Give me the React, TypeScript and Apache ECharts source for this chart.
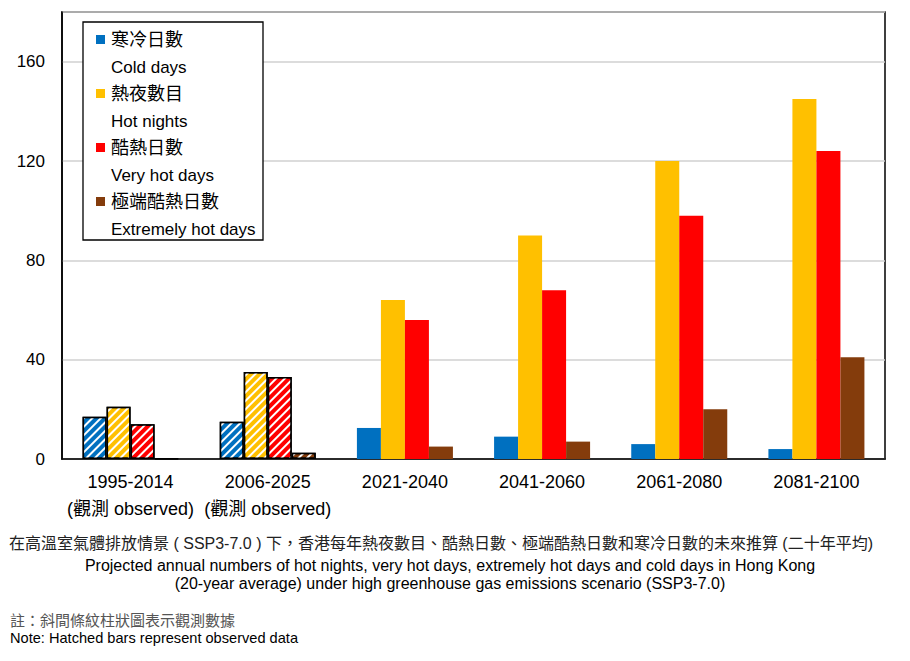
import React, { useEffect, useRef } from "react";
import * as echarts from "echarts";

const categories = ["1995-2014", "2006-2025", "2021-2040", "2041-2060", "2061-2080", "2081-2100"];
const observedFlags = [true, true, false, false, false, false];
const coldDays = [17, 15, 12.5, 9, 6, 4];
const hotNights = [21, 35, 64, 90, 120, 145];
const veryHotDays = [14, 33, 56, 68, 98, 124];
const extremelyHotDays = [0.3, 2.5, 5, 7, 20, 41];
const seriesNamesZh = ["寒冷日數", "熱夜數目", "酷熱日數", "極端酷熱日數"];
const seriesNamesEn = ["Cold days", "Hot nights", "Very hot days", "Extremely hot days"];
const seriesColors = ["#0070C0", "#FFC000", "#FF0000", "#843C0C"];
const yTicks = [0, 40, 80, 120, 160];

const FONT = "'Liberation Sans', Arial, 'Noto Sans CJK TC', sans-serif";
const NARROW = "'Liberation Sans Narrow', 'Arial Narrow', 'Liberation Sans', 'Noto Sans CJK TC', sans-serif";

export default function App() {
  const ref = useRef<HTMLDivElement>(null);
  useEffect(() => {
    if (!ref.current) return;
    const chart = echarts.init(ref.current, null, { renderer: "svg" });
    const allValues = [coldDays, hotNights, veryHotDays, extremelyHotDays];
    const decal = {
      symbol: "rect",
      symbolSize: 1,
      color: "#ffffff",
      dashArrayX: [1, 0],
      dashArrayY: [2, 4],
      rotation: -Math.PI / 4,
    };
    const series = allValues.map((vals, si) => ({
      type: "bar",
      name: seriesNamesZh[si],
      barGap: "0%",
      barCategoryGap: "30%",
      itemStyle: { color: seriesColors[si] },
      data: vals.map((v, i) =>
        observedFlags[i]
          ? { value: v, itemStyle: { color: seriesColors[si], borderColor: "#000", borderWidth: 1.5, decal } }
          : { value: v }
      ),
    }));

    const legendGraphics: any[] = [
      {
        type: "rect",
        shape: { x: 83, y: 22, width: 180, height: 218 },
        style: { fill: "#fff", stroke: "#000", lineWidth: 1.3 },
        z: 100,
      },
    ];
    const rowGap = 27;
    seriesNamesZh.forEach((zh, i) => {
      const y0 = 40 + i * 2 * rowGap;
      legendGraphics.push({
        type: "rect",
        shape: { x: 96, y: y0 - 5, width: 9, height: 9 },
        style: { fill: seriesColors[i] },
        z: 101,
      });
      legendGraphics.push({
        type: "text",
        x: 111,
        y: y0,
        style: { text: zh, font: `18px ${FONT}`, fill: "#000", verticalAlign: "middle" },
        z: 101,
      });
      legendGraphics.push({
        type: "text",
        x: 111,
        y: y0 + rowGap,
        style: { text: seriesNamesEn[i], font: `17px ${FONT}`, fill: "#000", verticalAlign: "middle" },
        z: 101,
      });
    });

    const bottomTexts: any[] = [
      {
        type: "text",
        x: 441,
        y: 543,
        style: {
          text: "在高溫室氣體排放情景 ( SSP3-7.0 ) 下，香港每年熱夜數目、酷熱日數、極端酷熱日數和寒冷日數的未來推算 (二十年平均)",
          font: `16px ${NARROW}`,
          fill: "#222",
          align: "center",
          verticalAlign: "middle",
        },
      },
      {
        type: "text",
        x: 450,
        y: 565,
        style: {
          text: "Projected annual numbers of hot nights, very hot days, extremely hot days and cold days in Hong Kong",
          font: `16px ${NARROW}`,
          fill: "#000",
          align: "center",
          verticalAlign: "middle",
        },
      },
      {
        type: "text",
        x: 450,
        y: 583,
        style: {
          text: "(20-year average) under high greenhouse gas emissions scenario (SSP3-7.0)",
          font: `16px ${NARROW}`,
          fill: "#000",
          align: "center",
          verticalAlign: "middle",
        },
      },
      {
        type: "text",
        x: 10,
        y: 620,
        style: { text: "註：斜間條紋柱狀圖表示觀測數據", font: `15px ${NARROW}`, fill: "#555", verticalAlign: "middle" },
      },
      {
        type: "text",
        x: 10,
        y: 638,
        style: { text: "Note: Hatched bars represent observed data", font: `14.6px ${NARROW}`, fill: "#000", verticalAlign: "middle" },
      },
    ];

    chart.setOption({
      animation: false,
      backgroundColor: "#fff",
      grid: {
        left: 62,
        right: 25,
        top: 12,
        bottom: 202,
        show: true,
        borderColor: "#000",
        borderWidth: 1.5,
        containLabel: false,
      },
      xAxis: {
        type: "category",
        data: categories,
        axisLine: { lineStyle: { color: "#000", width: 1.5 } },
        axisTick: { show: false },
        axisLabel: {
          color: "#000",
          fontSize: 18,
          fontFamily: FONT,
          lineHeight: 27,
          margin: 9,
          interval: 0,
          formatter: (v: string, i: number) => (observedFlags[i] ? `${v}\n(觀測 observed)` : v),
        },
      },
      yAxis: {
        type: "value",
        min: 0,
        max: 180,
        interval: 40,
        axisLine: { show: true, lineStyle: { color: "#000", width: 1.5 } },
        axisTick: { show: false },
        splitLine: { lineStyle: { color: "#d0d0d0", width: 1.5 } },
        axisLabel: {
          color: "#000",
          fontSize: 17,
          fontFamily: FONT,
          margin: 17,
          formatter: (v: number) => (yTicks.includes(v) ? String(v) : ""),
        },
      },
      legend: { show: false },
      series,
      graphic: [...legendGraphics, ...bottomTexts],
    });
    return () => chart.dispose();
  }, []);
  return <div ref={ref} style={{ width: 910, height: 661, position: "absolute", left: 0, top: 0 }} />;
}
